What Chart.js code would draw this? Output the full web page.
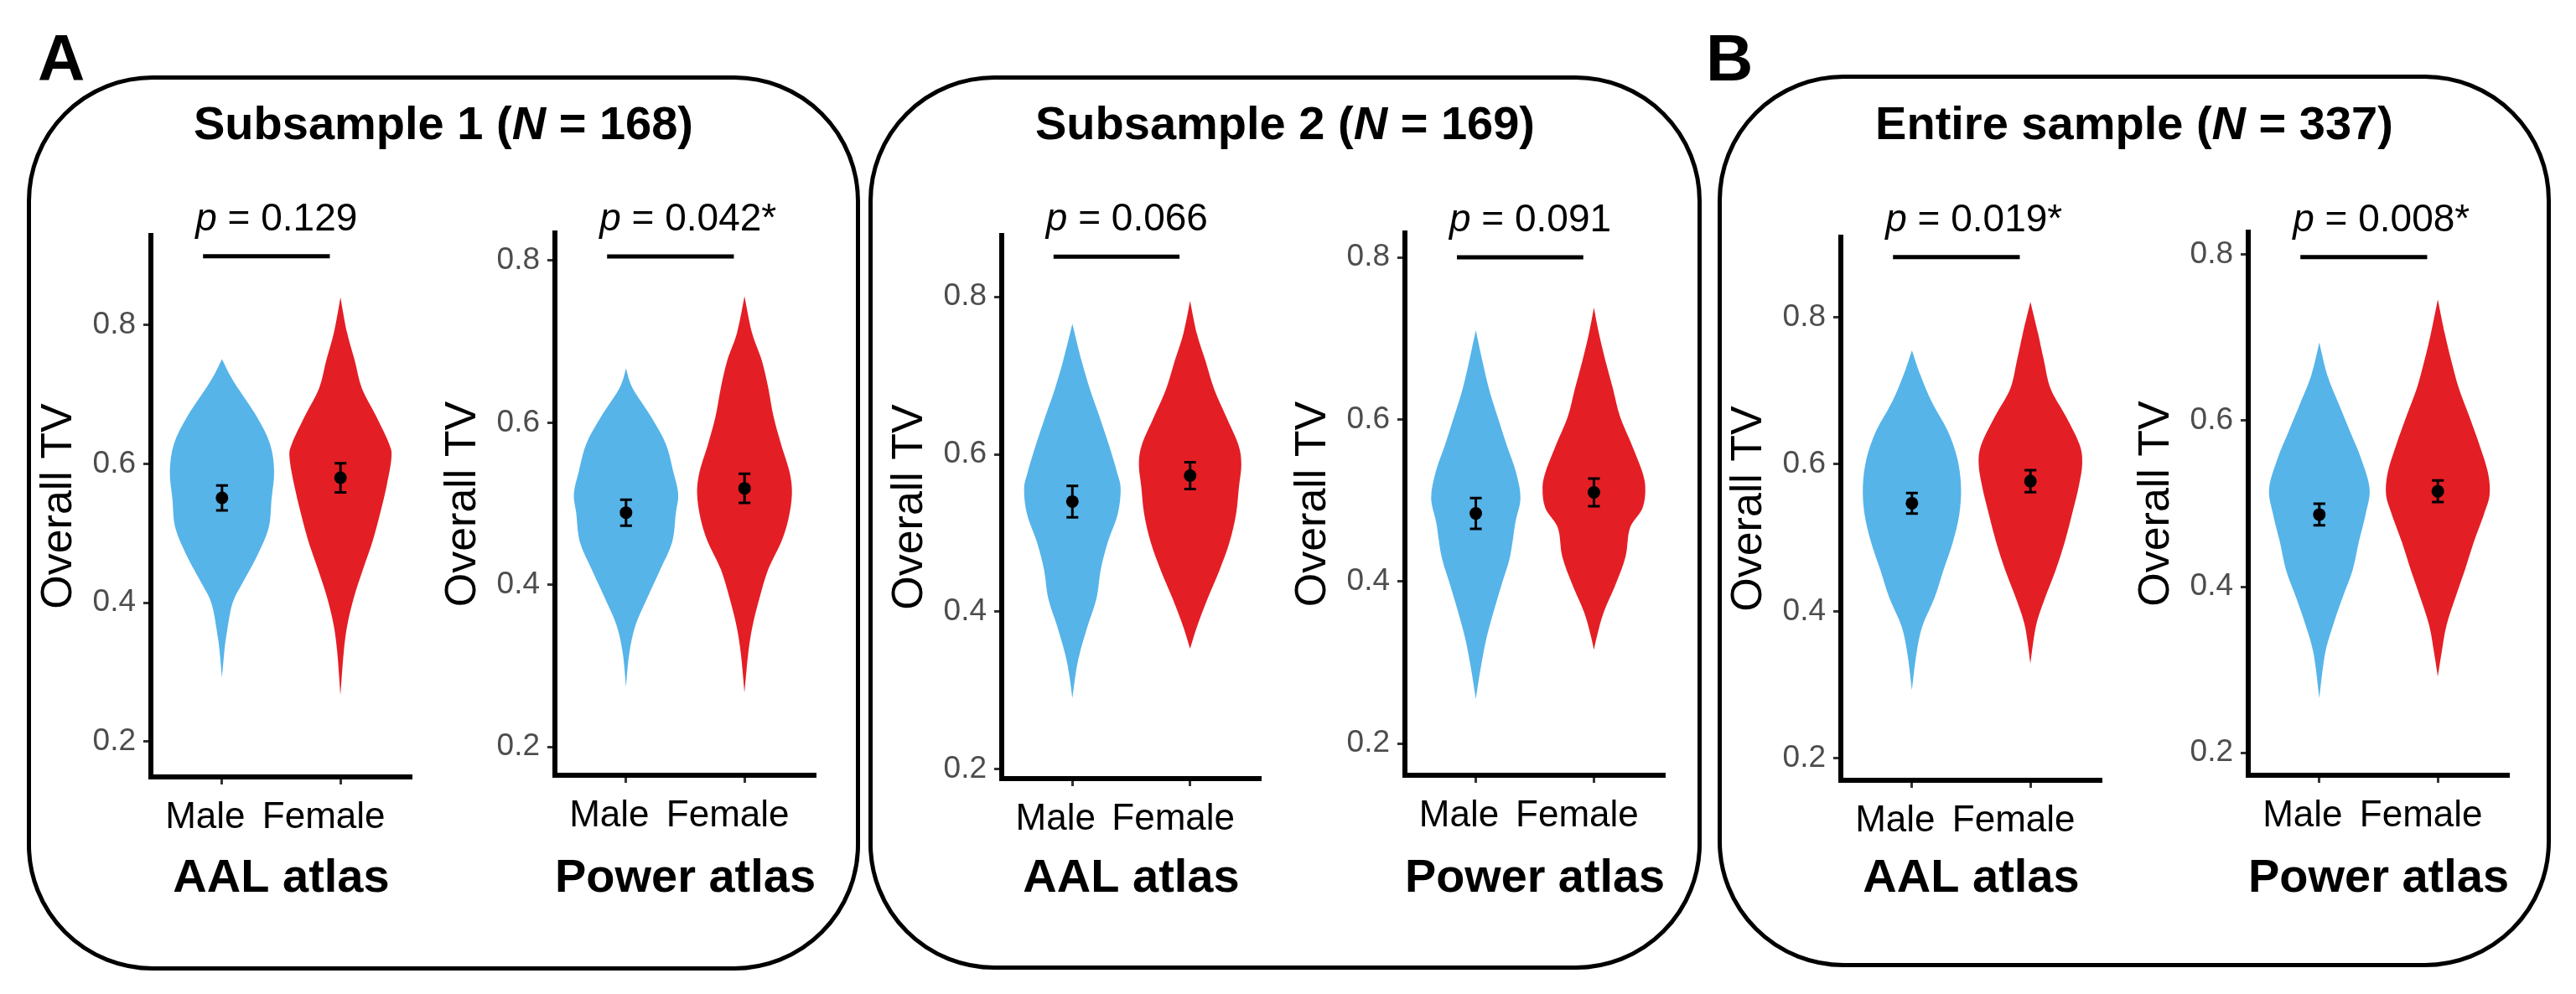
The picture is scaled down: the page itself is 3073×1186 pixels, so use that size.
<!DOCTYPE html>
<html>
<head>
<meta charset="utf-8">
<script src="https://cdn.jsdelivr.net/npm/chart.js@4.4.1/dist/chart.umd.min.js"></script>
<style>
  html, body { margin: 0; padding: 0; background: #fff; }
  body { width: 3073px; height: 1186px; position: relative; overflow: hidden; font-family: 'Liberation Sans', Arial, sans-serif; }
  .panel { position: absolute; box-sizing: border-box; border: 5px solid #000; border-radius: 150px; }
  .title { position: absolute; width: 1000px; font-weight: bold; font-size: 56px; line-height: 56px; text-align: center; white-space: nowrap; }
  .tag { position: absolute; font-weight: bold; font-size: 78px; line-height: 78px; }
  canvas { position: absolute; }
</style>
</head>
<body>
<div class="tag" style="left:45px;top:30px;">A</div>
<div class="tag" style="left:2035px;top:30px;">B</div>

<div class="panel" style="left:32px;top:90px;width:994px;height:1068px;"></div>
<div class="panel" style="left:1036px;top:90px;width:994px;height:1067px;"></div>
<div class="panel" style="left:2049px;top:89px;width:994px;height:1065px;"></div>

<div class="title" style="left:29px;top:119px;">Subsample 1 (<i>N</i> = 168)</div>
<div class="title" style="left:1033px;top:119px;">Subsample 2 (<i>N</i> = 169)</div>
<div class="title" style="left:2046px;top:119px;">Entire sample (<i>N</i> = 337)</div>

<script>
// Data
const categories = ['Male', 'Female'];
const atlasNames = ['AAL atlas', 'Power atlas', 'AAL atlas', 'Power atlas', 'AAL atlas', 'Power atlas'];
const pValues = ['0.129', '0.042*', '0.066', '0.091', '0.019*', '0.008*'];
const yTicks = [0.2, 0.4, 0.6, 0.8];
const yMin = [0.149, 0.165, 0.188, 0.161, 0.170, 0.173];
const yMax = [0.929, 0.834, 0.878, 0.830, 0.909, 0.827];
const sigY = [0.899, 0.805, 0.851, 0.800, 0.882, 0.797];
const maleMean = [0.551, 0.489, 0.540, 0.484, 0.547, 0.487];
const femaleMean = [0.580, 0.519, 0.573, 0.510, 0.577, 0.515];
const maleErr = [0.018, 0.016, 0.020, 0.019, 0.014, 0.013];
const femaleErr = [0.021, 0.018, 0.017, 0.017, 0.015, 0.013];

// violin profiles: [value, half width in category units], bottom to top
const s1AalMale = [[0.292,0],[0.330,0.02],[0.348,0.033],[0.388,0.072],[0.408,0.109],[0.428,0.172],[0.468,0.298],[0.508,0.394],[0.549,0.418],[0.589,0.44],[0.629,0.405],[0.669,0.29],[0.709,0.135],[0.729,0.064],[0.751,0]];
const s1AalFemale = [[0.267,0],[0.328,0.027],[0.368,0.058],[0.408,0.114],[0.448,0.19],[0.488,0.27],[0.529,0.335],[0.569,0.39],[0.609,0.43],[0.629,0.41],[0.669,0.30],[0.709,0.18],[0.749,0.12],[0.790,0.054],[0.840,0]];
const s1PowerMale = [[0.274,0],[0.315,0.027],[0.350,0.08],[0.384,0.18],[0.419,0.29],[0.453,0.39],[0.488,0.42],[0.512,0.44],[0.539,0.40],[0.574,0.335],[0.608,0.208],[0.643,0.054],[0.667,0]];
const s1PowerFemale = [[0.267,0],[0.315,0.031],[0.350,0.069],[0.384,0.127],[0.419,0.2],[0.453,0.31],[0.481,0.37],[0.512,0.40],[0.539,0.38],[0.574,0.307],[0.608,0.244],[0.643,0.2],[0.677,0.145],[0.711,0.063],[0.756,0]];
const s2AalMale = [[0.290,0],[0.321,0.028],[0.346,0.061],[0.382,0.13],[0.417,0.205],[0.453,0.24],[0.488,0.30],[0.524,0.385],[0.556,0.41],[0.577,0.38],[0.612,0.31],[0.648,0.23],[0.683,0.149],[0.719,0.078],[0.766,0]];
const s2AalFemale = [[0.353,0],[0.382,0.061],[0.417,0.149],[0.453,0.25],[0.488,0.334],[0.524,0.39],[0.559,0.415],[0.587,0.435],[0.612,0.41],[0.648,0.306],[0.683,0.204],[0.719,0.13],[0.754,0.056],[0.795,0]];
const s2PowerMale = [[0.255,0],[0.293,0.041],[0.328,0.087],[0.362,0.149],[0.397,0.22],[0.431,0.29],[0.472,0.334],[0.503,0.378],[0.535,0.34],[0.569,0.26],[0.603,0.185],[0.638,0.111],[0.672,0.056],[0.710,0]];
const s2PowerFemale = [[0.316,0],[0.334,0.028],[0.362,0.083],[0.397,0.185],[0.431,0.268],[0.466,0.305],[0.490,0.41],[0.514,0.435],[0.535,0.41],[0.569,0.32],[0.603,0.222],[0.638,0.161],[0.672,0.098],[0.707,0.041],[0.738,0]];
const allAalMale = [[0.293,0],[0.342,0.038],[0.380,0.089],[0.418,0.19],[0.456,0.266],[0.494,0.345],[0.532,0.40],[0.570,0.414],[0.608,0.383],[0.646,0.30],[0.684,0.17],[0.722,0.07],[0.755,0]];
const allAalFemale = [[0.329,0],[0.380,0.047],[0.418,0.123],[0.456,0.213],[0.494,0.289],[0.532,0.351],[0.570,0.408],[0.601,0.437],[0.627,0.414],[0.665,0.30],[0.703,0.17],[0.741,0.114],[0.779,0.063],[0.821,0]];
const allPowerMale = [[0.266,0],[0.319,0.048],[0.353,0.114],[0.387,0.196],[0.420,0.281],[0.454,0.333],[0.487,0.39],[0.518,0.424],[0.555,0.351],[0.588,0.256],[0.622,0.158],[0.655,0.067],[0.694,0]];
const allPowerFemale = [[0.292,0],[0.319,0.03],[0.353,0.072],[0.387,0.148],[0.420,0.228],[0.454,0.304],[0.487,0.388],[0.511,0.437],[0.538,0.422],[0.571,0.351],[0.605,0.266],[0.639,0.177],[0.672,0.114],[0.706,0.057],[0.746,0]];

const maleViolins = [s1AalMale, s1PowerMale, s2AalMale, s2PowerMale, allAalMale, allPowerMale];
const femaleViolins = [s1AalFemale, s1PowerFemale, s2AalFemale, s2PowerFemale, allAalFemale, allPowerFemale];

// Layout (page pixels of each plot's axes)
const plotLeft = [180, 662, 1195, 1676, 2196, 2682];
const plotRight = [491, 973, 1504, 1986, 2507, 2993];
const plotTop = [281, 278, 281, 278, 283, 277];
const plotBottom = [927, 925, 929, 925, 931, 925];

const BLUE = '#56B4E9';
const RED = '#E41E25';
const FONT = "'Liberation Sans', Arial, sans-serif";
const CANVAS_TOP = 215;
const TITLE_BOTTOM = 1077;
const Y_AXIS_W = 135;

Chart.defaults.font.family = FONT;

// one side of a violin as a Catmull-Rom curve through the points
function traceSide(ctx, pts, first) {
    if (first) ctx.moveTo(pts[0].x, pts[0].y);
    else ctx.lineTo(pts[0].x, pts[0].y);
    for (let i = 0; i < pts.length - 1; i++) {
        const p0 = pts[Math.max(i - 1, 0)];
        const p1 = pts[i];
        const p2 = pts[i + 1];
        const p3 = pts[Math.min(i + 2, pts.length - 1)];
        const c1x = p1.x + (p2.x - p0.x) / 6, c1y = p1.y + (p2.y - p0.y) / 6;
        const c2x = p2.x - (p3.x - p1.x) / 6, c2y = p2.y - (p3.y - p1.y) / 6;
        ctx.bezierCurveTo(c1x, c1y, c2x, c2y, p2.x, p2.y);
    }
}

function drawViolin(chart, profile, center, color) {
    const {ctx, scales: {x, y}} = chart;
    const right = profile.map(p => ({x: x.getPixelForValue(center + p[1]), y: y.getPixelForValue(p[0])}));
    const left = profile.slice().reverse().map(p => ({x: x.getPixelForValue(center - p[1]), y: y.getPixelForValue(p[0])}));
    ctx.beginPath();
    traceSide(ctx, right, true);
    traceSide(ctx, left, false);
    ctx.closePath();
    ctx.fillStyle = color;
    ctx.fill();
}

function drawErrorBar(chart, center, mean, err) {
    const {ctx, scales: {x, y}} = chart;
    const cx = x.getPixelForValue(center);
    const x0 = x.getPixelForValue(center - 0.05);
    const x1 = x.getPixelForValue(center + 0.05);
    const yLo = y.getPixelForValue(mean - err);
    const yHi = y.getPixelForValue(mean + err);
    ctx.strokeStyle = '#000';
    ctx.lineWidth = 3;
    ctx.beginPath();
    ctx.moveTo(cx, yLo); ctx.lineTo(cx, yHi);
    ctx.moveTo(x0, yLo); ctx.lineTo(x1, yLo);
    ctx.moveTo(x0, yHi); ctx.lineTo(x1, yHi);
    ctx.stroke();
}

function makeChart(i) {
    const canvas = document.createElement('canvas');
    const width = plotRight[i] - plotLeft[i] + Y_AXIS_W + 20;
    const height = TITLE_BOTTOM - CANVAS_TOP;
    canvas.width = width;
    canvas.height = height;
    canvas.style.left = (plotLeft[i] - Y_AXIS_W) + 'px';
    canvas.style.top = CANVAS_TOP + 'px';
    canvas.style.width = width + 'px';
    canvas.style.height = height + 'px';
    document.body.appendChild(canvas);

    const violinPlugin = {
        id: 'violins',
        beforeDatasetsDraw(chart) {
            const ctx = chart.ctx;
            ctx.save();
            drawViolin(chart, maleViolins[i], 1, BLUE);
            drawViolin(chart, femaleViolins[i], 2, RED);
            drawErrorBar(chart, 1, maleMean[i], maleErr[i]);
            drawErrorBar(chart, 2, femaleMean[i], femaleErr[i]);
            ctx.restore();
        },
        afterDraw(chart) {
            const {ctx, scales: {x, y}} = chart;
            const barY = y.getPixelForValue(sigY[i]);
            const bx0 = x.getPixelForValue(0.84);
            const bx1 = x.getPixelForValue(1.91);
            ctx.save();
            ctx.strokeStyle = '#000';
            ctx.lineWidth = 5;
            ctx.beginPath();
            ctx.moveTo(bx0, barY);
            ctx.lineTo(bx1, barY);
            ctx.stroke();

            // p-value label, italic p
            ctx.fillStyle = '#000';
            ctx.textBaseline = 'alphabetic';
            ctx.textAlign = 'left';
            const ty = barY - 31;
            let tx = bx0 - 9;
            ctx.font = 'italic 46px ' + FONT;
            ctx.fillText('p', tx, ty);
            tx += ctx.measureText('p').width;
            ctx.font = '46px ' + FONT;
            ctx.fillText(' = ' + pValues[i], tx, ty);
            ctx.restore();
        }
    };

    new Chart(canvas, {
        type: 'scatter',
        data: {
            datasets: [{
                data: [{x: 1, y: maleMean[i]}, {x: 2, y: femaleMean[i]}],
                backgroundColor: '#000',
                borderWidth: 0,
                pointRadius: 7.5,
                pointHoverRadius: 7.5
            }]
        },
        options: {
            responsive: false,
            animation: false,
            layout: { padding: { top: plotTop[i] - CANVAS_TOP, right: 20, left: 0, bottom: 0 } },
            plugins: { legend: { display: false }, tooltip: { enabled: false } },
            scales: {
                x: {
                    type: 'linear',
                    min: 0.4,
                    max: 2.6,
                    afterBuildTicks: s => { s.ticks = [{value: 1}, {value: 2}]; },
                    afterFit: s => { s.height = TITLE_BOTTOM - plotBottom[i]; },
                    ticks: {
                        callback: v => categories[v - 1],
                        color: '#000',
                        font: { size: 44 },
                        padding: 13,
                        labelOffset: -20,
                        maxRotation: 0,
                        autoSkip: false
                    },
                    grid: { drawOnChartArea: false, tickLength: 9, tickWidth: 3, tickColor: '#333' },
                    border: { display: true, color: '#000', width: 6 },
                    title: {
                        display: true,
                        text: atlasNames[i],
                        color: '#000',
                        font: { size: 56, weight: 'bold', lineHeight: 1 },
                        padding: 0
                    }
                },
                y: {
                    type: 'linear',
                    min: yMin[i],
                    max: yMax[i],
                    afterBuildTicks: s => { s.ticks = yTicks.map(v => ({value: v})); },
                    afterFit: s => { s.width = Y_AXIS_W; },
                    ticks: {
                        callback: v => v.toFixed(1),
                        color: '#4d4d4d',
                        font: { size: 37 },
                        padding: 9
                    },
                    grid: { drawOnChartArea: false, tickLength: 9, tickWidth: 3, tickColor: '#333' },
                    border: { display: true, color: '#000', width: 6 },
                    title: {
                        display: true,
                        text: 'Overall TV',
                        color: '#000',
                        font: { size: 52, lineHeight: 1 },
                        padding: 0
                    }
                }
            }
        },
        plugins: [violinPlugin]
    });
}

document.addEventListener('DOMContentLoaded', function() {
    for (let i = 0; i < 6; i++) {
        makeChart(i);
    }
});
</script>
</body>
</html>
